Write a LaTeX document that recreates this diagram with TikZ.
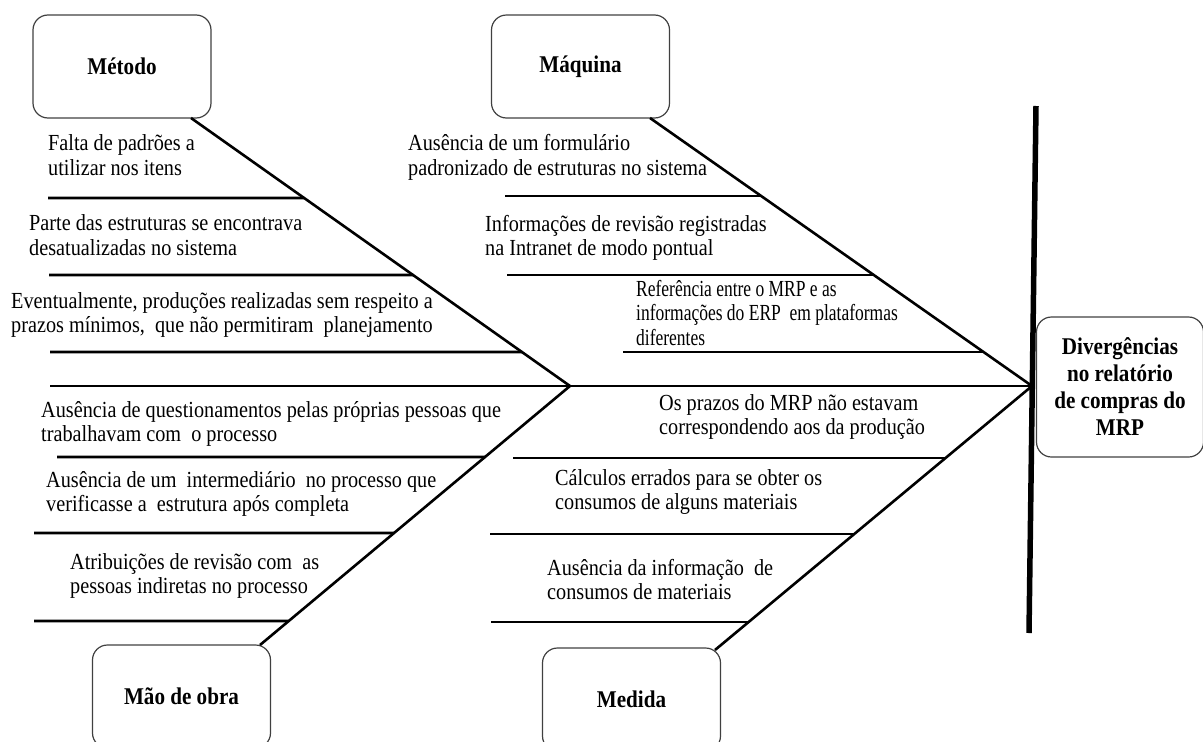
\documentclass[tikz,border=0pt]{standalone}
\usepackage{fontspec}
\setmainfont{Liberation Serif}[FakeStretch=0.88]
\newfontfamily\narrowserif{Liberation Serif}[FakeStretch=0.76]
\begin{document}
\begin{tikzpicture}[x=1pt,y=-1pt,
  catbox/.style={draw=black!75, line width=1.2pt, rounded corners=15pt,
    minimum width=178pt, minimum height=103pt, inner sep=0pt,
    font=\fontsize{24}{27}\selectfont\bfseries},
  effectbox/.style={draw=black!75, line width=1.2pt, rounded corners=15pt,
    minimum width=167pt, minimum height=140pt, inner sep=0pt, align=center,
    font=\fontsize{24}{27}\selectfont\bfseries},
  bone/.style={line width=2.6pt},
  rib/.style={line width=2.8pt},
  head/.style={line width=5.5pt},
  cause/.style={anchor=west, align=left, inner sep=0pt,
    font=\fontsize{23}{24.5}\selectfont},
  narrowcause/.style={cause, font=\narrowserif\fontsize{23}{24.5}\selectfont},
]
\useasboundingbox (0,0) rectangle (1203,742);
\clip (0,0) rectangle (1203,742);

% category boxes
\node[catbox] (metodo)  at (122,66.5)  {Método};
\node[catbox] (maquina) at (580.5,66.5) {Máquina};
\node[catbox] (maoobra) at (181.5,696.5) {Mão de obra};
\node[catbox] (medida)  at (631.5,699.5) {Medida};

% effect box
\node[effectbox] (efeito) at (1120,387)
  {Divergências\\no relatório\\de compras do\\MRP};

% skeleton points
\coordinate (j1) at (570,386);
\coordinate (j2) at (1032,386);
\coordinate (tail) at (50,386);
\coordinate (vtop) at (1036,106);
\coordinate (vbot) at (1029,633);
\coordinate (m1) at (191,118);
\coordinate (q1) at (650,118);
\coordinate (o1) at (260,645);
\coordinate (d1) at (715,650);

% head line and spine
\draw[head] (vtop) -- (vbot);
\draw[bone] (tail) -- (j2);

% main bones
\draw[bone] (m1) -- (j1);
\draw[bone] (q1) -- (j2);
\draw[bone] (j1) -- (o1);
\draw[bone] (j2) -- (d1);

% ribs: Método
\draw[rib] (48,198) -- (intersection of m1--j1 and 0,198--1,198);
\draw[rib] (49,275) -- (intersection of m1--j1 and 0,275--1,275);
\draw[rib] (50,352) -- (intersection of m1--j1 and 0,352--1,352);
% ribs: Máquina
\draw[rib] (505,196) -- (intersection of q1--j2 and 0,196--1,196);
\draw[rib] (507,275) -- (intersection of q1--j2 and 0,275--1,275);
\draw[rib] (623,352) -- (intersection of q1--j2 and 0,352--1,352);
% ribs: Mão de obra
\draw[rib] (57,457) -- (intersection of j1--o1 and 0,457--1,457);
\draw[rib] (34,533) -- (intersection of j1--o1 and 0,533--1,533);
\draw[rib] (34,621) -- (intersection of j1--o1 and 0,621--1,621);
% ribs: Medida
\draw[rib] (513,458) -- (intersection of j2--d1 and 0,458--1,458);
\draw[rib] (490,534) -- (intersection of j2--d1 and 0,534--1,534);
\draw[rib] (491,622) -- (intersection of j2--d1 and 0,622--1,622);

% causes: Método
\node[cause] (c11) at (48,155) {Falta de padrões a\\utilizar nos itens};
\node[cause] (c12) at (29,235) {Parte das estruturas se encontrava\\desatualizadas no sistema};
\node[cause] (c13) at (11,315) {Eventualmente, produções realizadas sem respeito a\\prazos mínimos,\ \ que não permitiram\ \ planejamento};
% causes: Máquina
\node[cause] (c21) at (408,157.5) {Ausência de um formulário\\padronizado de estruturas no sistema};
\node[cause] (c22) at (485,238) {Informações de revisão registradas\\na Intranet de modo pontual};
\node[narrowcause] (c23) at (636,313) {Referência entre o MRP e as\\informações do ERP\ \ em plataformas\\diferentes};
% causes: Mão de obra
\node[cause] (c31) at (41,424) {Ausência de questionamentos pelas próprias pessoas que\\trabalhavam com\ \ o processo};
\node[cause] (c32) at (46,494) {Ausência de um\ \ intermediário\ \ no processo que\\verificasse a\ \ estrutura após completa};
\node[cause] (c33) at (70,576) {Atribuições de revisão com\ \ as\\pessoas indiretas no processo};
% causes: Medida
\node[cause] (c41) at (659,417) {Os prazos do MRP não estavam\\correspondendo aos da produção};
\node[cause] (c42) at (555,492) {Cálculos errados para se obter os\\consumos de alguns materiais};
\node[cause] (c43) at (547,579.5) {Ausência da informação\ \ de\\consumos de materiais};
\end{tikzpicture}
\end{document}
